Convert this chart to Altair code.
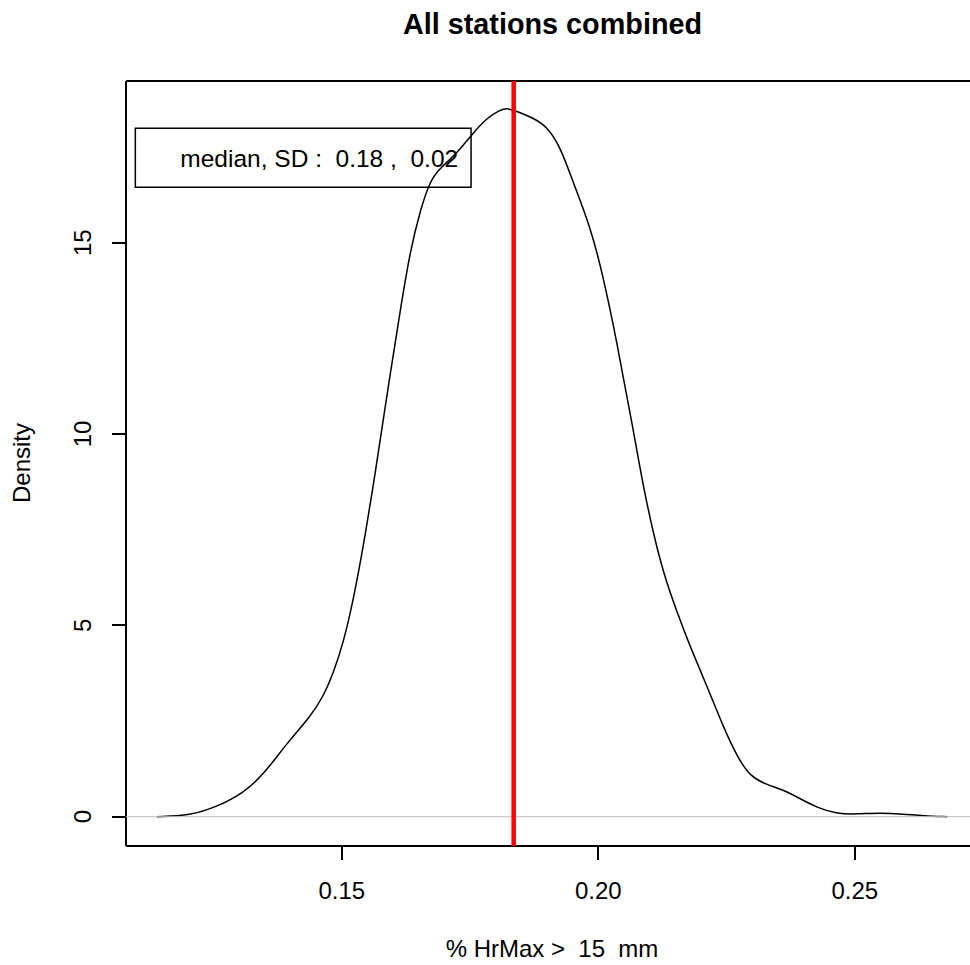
import altair as alt
import pandas as pd

# ---- data (kernel density estimate) ----
dens_x = [0.11398, 0.12047, 0.12567, 0.13080, 0.13470, 0.13932, 0.14386, 0.14639,
          0.14834, 0.15029, 0.15224, 0.15419, 0.15620, 0.15717, 0.15945, 0.16140,
          0.16335, 0.16530, 0.16725, 0.16920, 0.17246, 0.17563, 0.17830, 0.18090,
          0.18216, 0.18343, 0.18733, 0.19000, 0.19259, 0.19513, 0.19844, 0.20097,
          0.20365, 0.20595, 0.20682, 0.20877, 0.21072, 0.21267, 0.21540, 0.21793,
          0.22125, 0.22437, 0.22710, 0.22963, 0.23294, 0.23606, 0.23879, 0.24269,
          0.24659, 0.25049, 0.25497, 0.25945, 0.26335, 0.26803]
dens_y = [0.00, 0.03, 0.26, 0.62, 1.09, 1.93, 2.61, 3.14,
          3.75, 4.54, 5.66, 7.06, 8.71, 9.58, 11.58, 13.24,
          14.81, 15.85, 16.64, 16.95, 17.34, 17.87, 18.26, 18.47,
          18.51, 18.47, 18.26, 18.03, 17.51, 16.56, 15.42, 14.11,
          12.38, 10.70, 10.10, 8.62, 7.41, 6.37, 5.32, 4.43,
          3.39, 2.34, 1.56, 1.04, 0.83, 0.70, 0.51, 0.23,
          0.07, 0.07, 0.10, 0.07, 0.02, 0.00]
median_value = [0.1835]
zero_line = [0.0]
x_ticks = [0.15, 0.20, 0.25]
y_ticks = [0, 5, 10, 15]
legend_median = "0.18"
legend_sd = "0.02"

title_text = "All stations combined"
x_title = "% HrMax >\u00a0 15\u00a0 mm"
y_title = "Density"
legend_label = "median, SD :\u00a0 " + legend_median + " ,\u00a0 " + legend_sd

FONT = "Liberation Sans"
W, H = 844, 765

x_scale = alt.Scale(domain=[0.10793, 0.27245], nice=False, zero=False)
y_scale = alt.Scale(domain=[-0.766, 19.224], nice=False, zero=False)

dens_df = pd.DataFrame({"x": dens_x, "y": dens_y})
med_df = pd.DataFrame({"x": median_value})
zero_df = pd.DataFrame({"y": zero_line})
box_df = pd.DataFrame({"x1": [0.10975], "x2": [0.17519], "y1": [16.45], "y2": [17.99]})
txt_df = pd.DataFrame({"x": [0.11852], "y": [16.98], "label": [legend_label]})

axis_style = dict(domainColor="black", domainWidth=2, domainOpacity=1,
                  tickColor="black", tickWidth=2, tickOpacity=1, translate=0,
                  labelColor="black", titleColor="black",
                  labelFont=FONT, titleFont=FONT, grid=False)

curve = alt.Chart(dens_df).mark_line(
    color="black", strokeWidth=1.5, interpolate="basis"
).encode(
    x=alt.X("x:Q", scale=x_scale, axis=alt.Axis(
        values=x_ticks, format=".2f", tickSize=14, labelPadding=39,
        labelBaseline="alphabetic", labelFontSize=24,
        title=x_title, titleFontSize=24, titleFontWeight="normal",
        titleX=426, titleY=111, titleBaseline="alphabetic", titleAlign="center",
        **axis_style)),
    y=alt.Y("y:Q", scale=y_scale, axis=alt.Axis(
        values=y_ticks, tickSize=14, labelAngle=270, labelAlign="center",
        labelBaseline="alphabetic", labelPadding=21, labelFontSize=24,
        title=y_title, titleFontSize=24, titleFontWeight="normal", titleAngle=270,
        titleX=-96, titleY=382, titleBaseline="alphabetic", titleAlign="center",
        **axis_style)),
)

zero = alt.Chart(zero_df).mark_rule(color="#BEBEBE", strokeWidth=1).encode(
    y=alt.Y("y:Q", scale=y_scale, axis=None)
)

median_rule = alt.Chart(med_df).mark_rule(color="#FF0000", strokeWidth=4.5).encode(
    x=alt.X("x:Q", scale=x_scale, axis=alt.Axis(
        orient="top", labels=False, ticks=False, title=None, domain=True,
        **axis_style))
)

box = alt.Chart(box_df).mark_rect(
    fill="white", fillOpacity=0, stroke="black", strokeWidth=1.5
).encode(
    x=alt.X("x1:Q", scale=x_scale, axis=None), x2="x2:Q",
    y=alt.Y("y1:Q", scale=y_scale, axis=None), y2="y2:Q",
)

txt = alt.Chart(txt_df).mark_text(
    align="left", baseline="alphabetic", fontSize=24.5, font=FONT, color="black"
).encode(
    x=alt.X("x:Q", scale=x_scale, axis=None),
    y=alt.Y("y:Q", scale=y_scale, axis=None),
    text="label:N",
)

chart = alt.layer(curve, zero, median_rule, box, txt).resolve_axis(
    x="independent", y="independent"
).properties(
    width=W, height=H,
    title=alt.TitleParams(title_text, fontSize=28.8, fontWeight="bold", font=FONT,
                          anchor="middle", frame="group", dx=4.5, offset=16,
                          baseline="alphabetic", color="black"),
    autosize=alt.AutoSizeParams(type="none"),
    padding={"left": 126, "top": 81, "right": 0, "bottom": 119},
).configure_view(strokeWidth=0, stroke="transparent").configure(background="white")

chart.save("out.html", embed_options={"renderer": "svg", "actions": False})
